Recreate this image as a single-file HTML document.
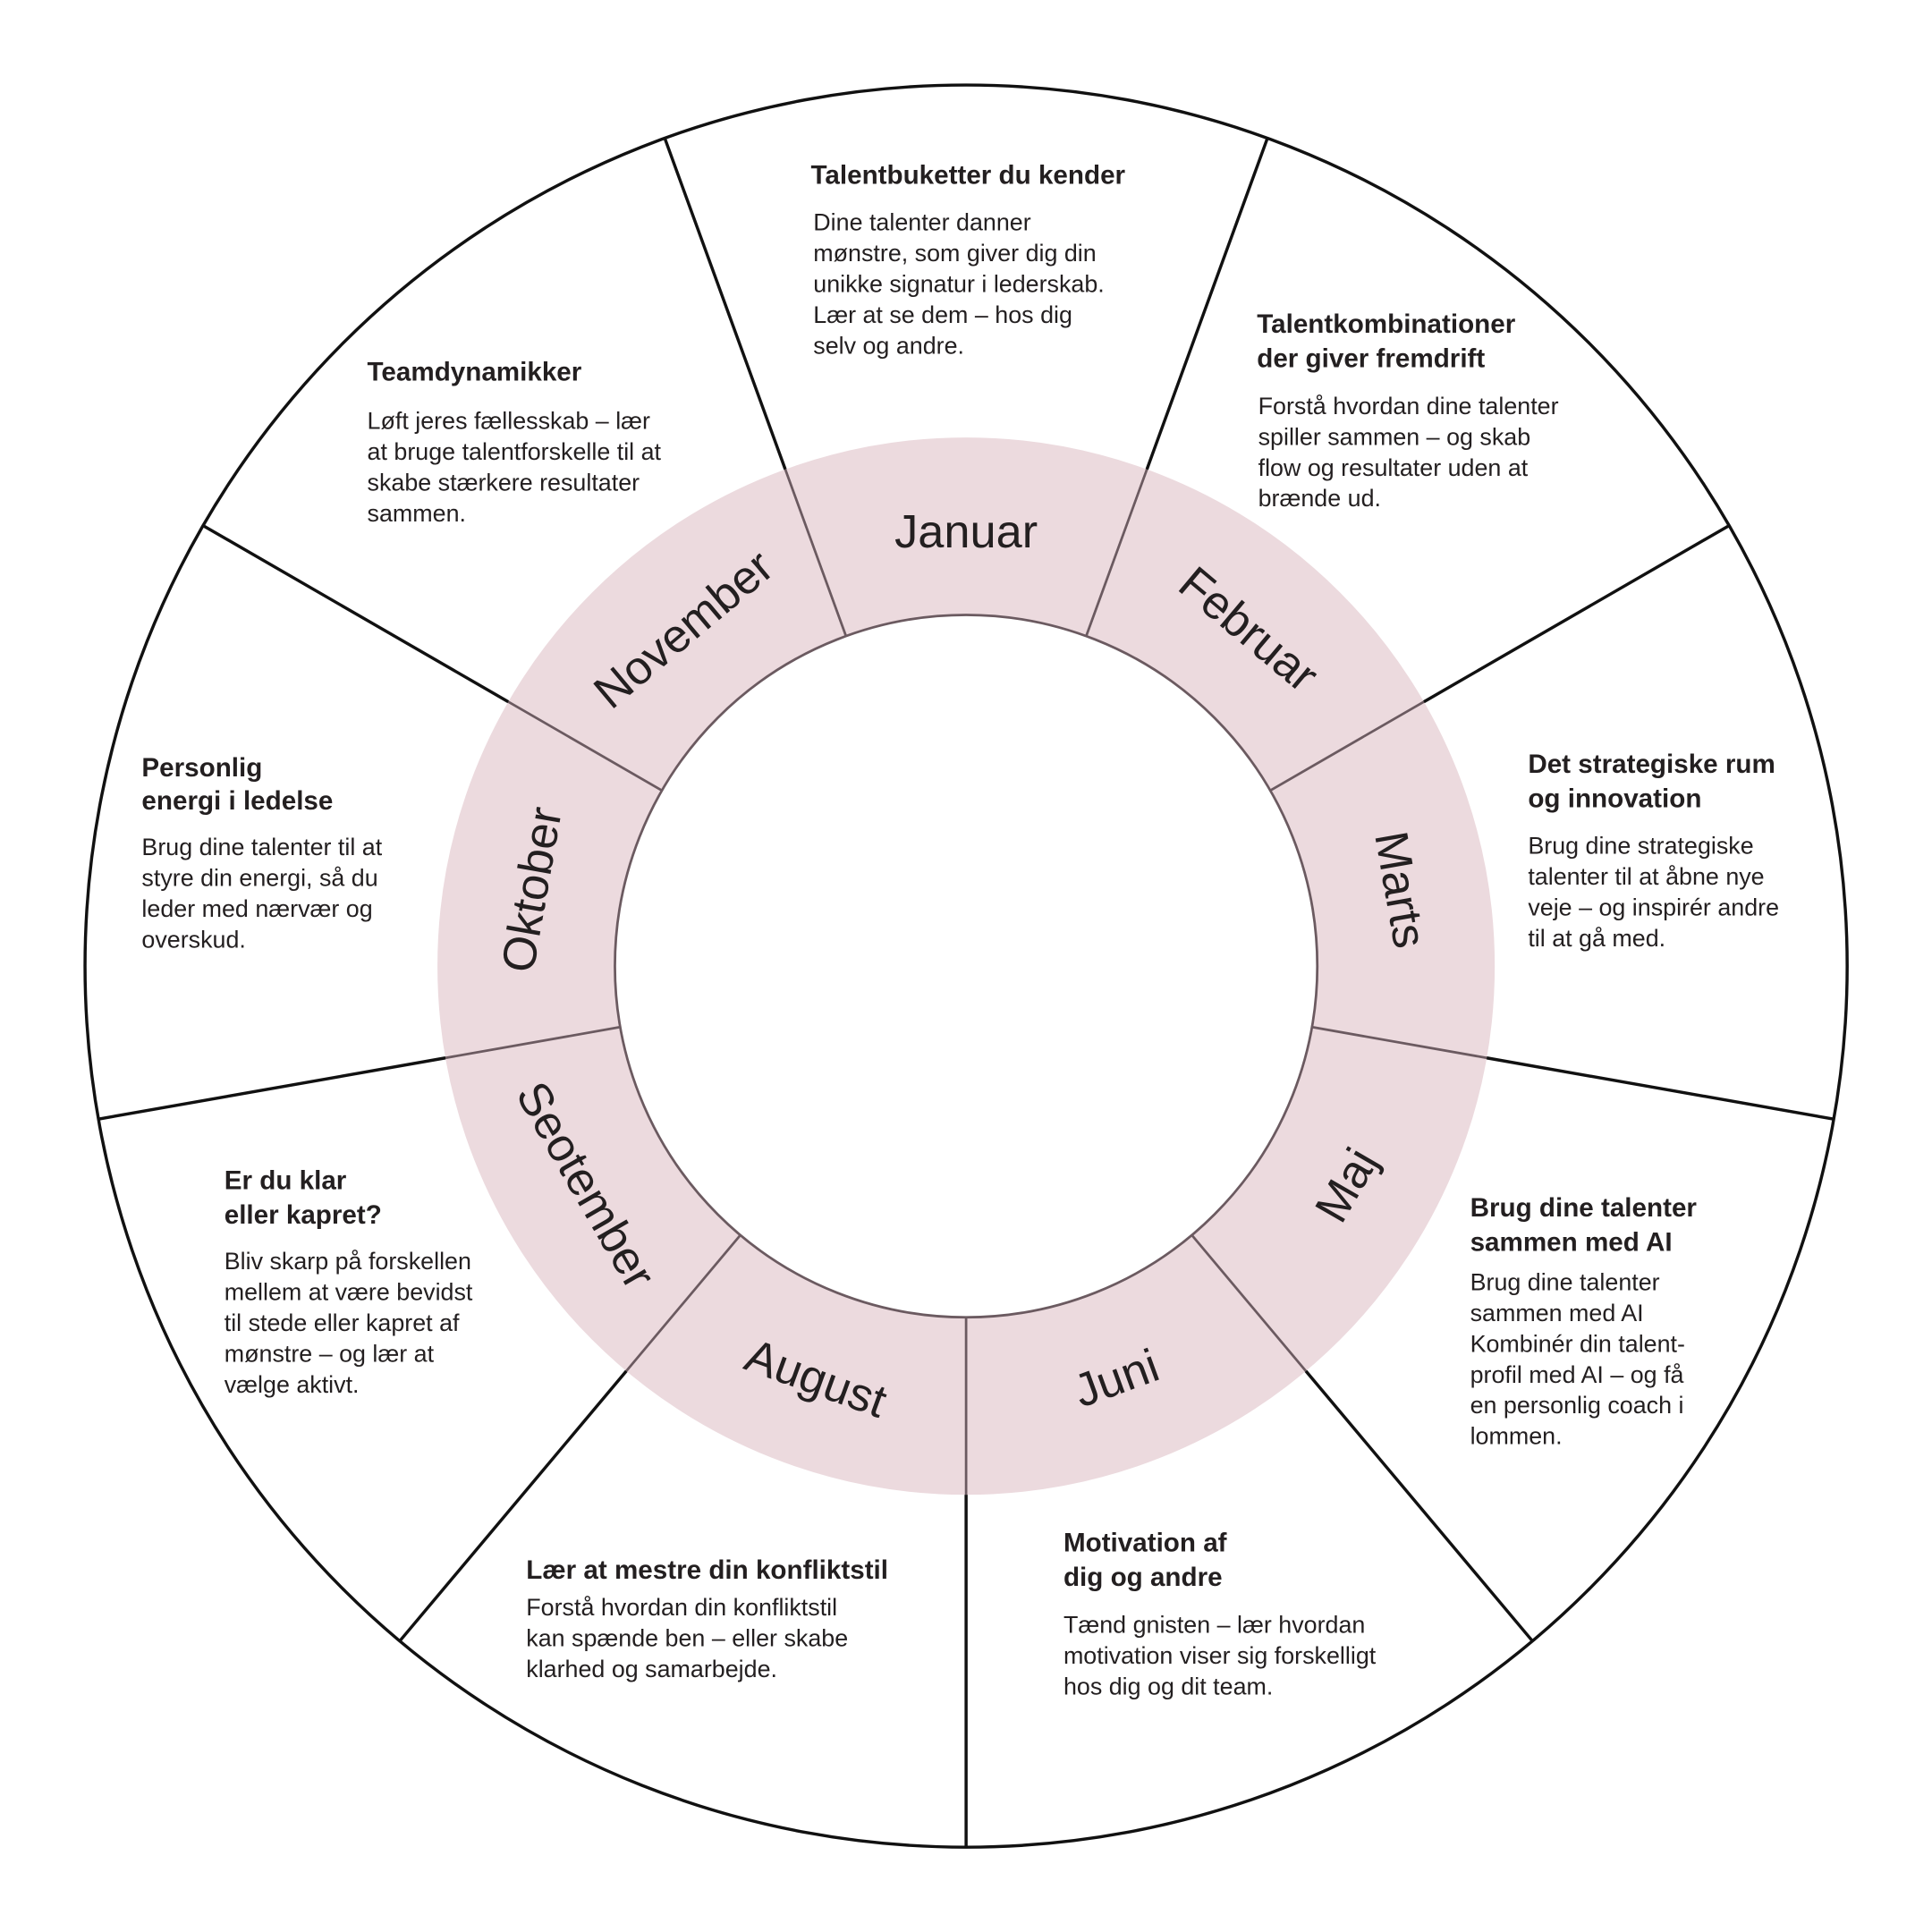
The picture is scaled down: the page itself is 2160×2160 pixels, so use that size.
<!DOCTYPE html>
<html><head><meta charset="utf-8"><style>
html,body{margin:0;padding:0;background:#fff;}
svg{display:block}
.t{font-family:"Liberation Sans",sans-serif;font-weight:bold;font-size:21.5px;fill:#231f20}
.b{font-family:"Liberation Sans",sans-serif;font-size:19.5px;fill:#231f20}
.m{font-family:"Liberation Sans",sans-serif;font-size:38px;fill:#231f20;text-anchor:middle;dominant-baseline:central}
</style></head><body>
<svg width="2160" height="2160" viewBox="0 0 1560 1560" xmlns="http://www.w3.org/2000/svg">
<rect width="1560" height="1560" fill="#fff"/>
<g transform="scale(0.995)">
<circle cx="784" cy="784" r="715" fill="#fff" stroke="#111" stroke-width="2.5"/>
<circle cx="784" cy="784" r="357" fill="none" stroke="#ecdade" stroke-width="144"/>
<circle cx="784" cy="784" r="285" fill="#fff" stroke="#6b5a60" stroke-width="2"/>
<g id="spokes"></g>
<script>
(function(){var g=document.getElementById('spokes'),ns='http://www.w3.org/2000/svg';
for(var i=0;i<9;i++){var a=(20+40*i)*Math.PI/180,s=Math.sin(a),c=-Math.cos(a);
function L(r1,r2,col,w){var l=document.createElementNS(ns,'line');l.setAttribute('x1',784+r1*s);l.setAttribute('y1',784+r1*c);l.setAttribute('x2',784+r2*s);l.setAttribute('y2',784+r2*c);l.setAttribute('stroke',col);l.setAttribute('stroke-width',w);g.appendChild(l);}
L(285,429,'#6b5a60',2);L(429,715,'#111',2.5);}})();
</script>
<text class="m" transform="translate(784,432) rotate(0)">Januar</text>
<text class="m" transform="translate(1013,511) rotate(40)">Februar</text>
<text class="m" transform="translate(1136,722) rotate(80)">Marts</text>
<text class="m" transform="translate(1093,962) rotate(-60)">Maj</text>
<text class="m" transform="translate(906,1119) rotate(-20)">Juni</text>
<text class="m" transform="translate(662,1119) rotate(20)">August</text>
<text class="m" transform="translate(475,962) rotate(60)">Seotember</text>
<text class="m" transform="translate(432,722) rotate(-80)">Oktober</text>
<text class="m" transform="translate(555,511) rotate(-40)">November</text>

<text class="t" x="658" y="149">Talentbuketter du kender</text>
<text class="b" x="660" y="187">Dine talenter danner</text>
<text class="b" x="660" y="212">mønstre, som giver dig din</text>
<text class="b" x="660" y="237">unikke signatur i lederskab.</text>
<text class="b" x="660" y="262">Lær at se dem – hos dig</text>
<text class="b" x="660" y="287">selv og andre.</text>

<text class="t" x="1020" y="270">Talentkombinationer</text>
<text class="t" x="1020" y="298">der giver fremdrift</text>
<text class="b" x="1021" y="336">Forstå hvordan dine talenter</text>
<text class="b" x="1021" y="361">spiller sammen – og skab</text>
<text class="b" x="1021" y="386">flow og resultater uden at</text>
<text class="b" x="1021" y="411">brænde ud.</text>

<text class="t" x="1240" y="627">Det strategiske rum</text>
<text class="t" x="1240" y="655">og innovation</text>
<text class="b" x="1240" y="693">Brug dine strategiske</text>
<text class="b" x="1240" y="718">talenter til at åbne nye</text>
<text class="b" x="1240" y="743">veje – og inspirér andre</text>
<text class="b" x="1240" y="768">til at gå med.</text>

<text class="t" x="1193" y="987">Brug dine talenter</text>
<text class="t" x="1193" y="1015">sammen med AI</text>
<text class="b" x="1193" y="1047">Brug dine talenter</text>
<text class="b" x="1193" y="1072">sammen med AI</text>
<text class="b" x="1193" y="1097">Kombinér din talent-</text>
<text class="b" x="1193" y="1122">profil med AI – og få</text>
<text class="b" x="1193" y="1147">en personlig coach i</text>
<text class="b" x="1193" y="1172">lommen.</text>

<text class="t" x="863" y="1259">Motivation af</text>
<text class="t" x="863" y="1287">dig og andre</text>
<text class="b" x="863" y="1325">Tænd gnisten – lær hvordan</text>
<text class="b" x="863" y="1350">motivation viser sig forskelligt</text>
<text class="b" x="863" y="1375">hos dig og dit team.</text>

<text class="t" x="427" y="1281">Lær at mestre din konfliktstil</text>
<text class="b" x="427" y="1311">Forstå hvordan din konfliktstil</text>
<text class="b" x="427" y="1336">kan spænde ben – eller skabe</text>
<text class="b" x="427" y="1361">klarhed og samarbejde.</text>

<text class="t" x="182" y="965">Er du klar</text>
<text class="t" x="182" y="993">eller kapret?</text>
<text class="b" x="182" y="1030">Bliv skarp på forskellen</text>
<text class="b" x="182" y="1055">mellem at være bevidst</text>
<text class="b" x="182" y="1080">til stede eller kapret af</text>
<text class="b" x="182" y="1105">mønstre – og lær at</text>
<text class="b" x="182" y="1130">vælge aktivt.</text>

<text class="t" x="115" y="630">Personlig</text>
<text class="t" x="115" y="657">energi i ledelse</text>
<text class="b" x="115" y="694">Brug dine talenter til at</text>
<text class="b" x="115" y="719">styre din energi, så du</text>
<text class="b" x="115" y="744">leder med nærvær og</text>
<text class="b" x="115" y="769">overskud.</text>

<text class="t" x="298" y="309">Teamdynamikker</text>
<text class="b" x="298" y="348">Løft jeres fællesskab – lær</text>
<text class="b" x="298" y="373">at bruge talentforskelle til at</text>
<text class="b" x="298" y="398">skabe stærkere resultater</text>
<text class="b" x="298" y="423">sammen.</text>
</g>
</svg>
</body></html>
